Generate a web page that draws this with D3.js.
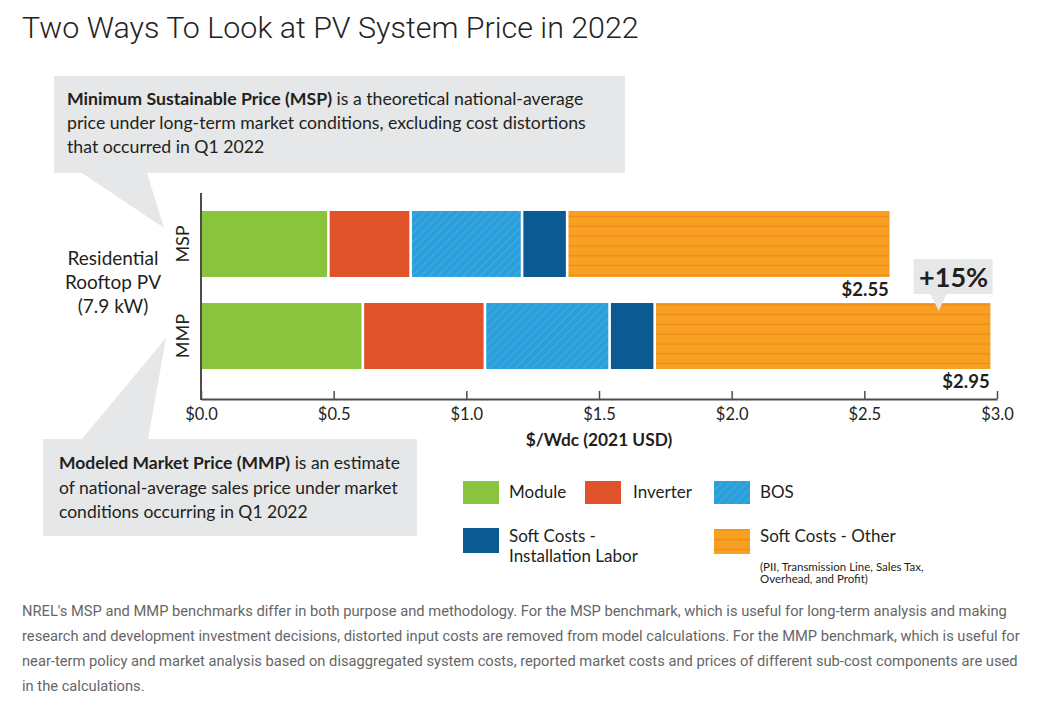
<!DOCTYPE html>
<html>
<head>
<meta charset="utf-8">
<script src="https://cdn.jsdelivr.net/npm/d3@7"></script>
<style>
  body { margin: 0; background: #fff; }
  svg { display: block; }
  .ig { font-family: Lato, "Open Sans", sans-serif; fill: #231f20; }
</style>
</head>
<body>
<div id="chart"></div>
<script>
// chart values
var categories = ["MSP", "MMP"]
var components = ["Module", "Inverter", "BOS", "Soft Costs - Installation Labor", "Soft Costs - Other"]
var mspValues = [0.48, 0.31, 0.42, 0.17, 1.22]
var mmpValues = [0.61, 0.46, 0.47, 0.17, 1.27]
var totalLabels = ["$2.55", "$2.95"]
var xTicks = [0, 0.5, 1.0, 1.5, 2.0, 2.5, 3.0]
var changeLabel = "+15%"

var W = 1052, H = 703
var fills = ["url(#pat-green)", "#e0532a", "url(#pat-blue)", "#0c5a93", "url(#pat-orange)"]
var calloutGray = "#e6e7e8"

var svg = d3.select("#chart").append("svg")
	.attr("width", W)
	.attr("height", H)

// textures
var defs = svg.append("defs")
var pg = defs.append("pattern").attr("id", "pat-green")
	.attr("patternUnits", "userSpaceOnUse").attr("width", 4).attr("height", 4)
pg.append("rect").attr("width", 4).attr("height", 4).attr("fill", "#8cc63f")
pg.append("path").attr("d", "M0,4 L4,0 M0,0 L4,4").attr("stroke", "#7db935").attr("stroke-width", 0.6).attr("opacity", 0.5)

var pb = defs.append("pattern").attr("id", "pat-blue")
	.attr("patternUnits", "userSpaceOnUse").attr("width", 6).attr("height", 6)
	.attr("patternTransform", "rotate(45)")
pb.append("rect").attr("width", 6).attr("height", 6).attr("fill", "#2b9fdb")
pb.append("rect").attr("width", 1.5).attr("height", 6).attr("fill", "#3ea9e1")

var po = defs.append("pattern").attr("id", "pat-orange")
	.attr("patternUnits", "userSpaceOnUse").attr("width", 10).attr("height", 9.8)
	.attr("y", 1.5)
po.append("rect").attr("width", 10).attr("height", 9.8).attr("fill", "#f7a021")
po.append("rect").attr("y", 8.6).attr("width", 10).attr("height", 1.2).attr("fill", "#ee8a1c")

// title
svg.append("text")
	.attr("x", 22).attr("y", 38)
	.style("font-family", "Roboto, sans-serif")
	.style("font-weight", 300)
	.style("font-size", "30.4px")
	.style("fill", "#222")
	.text("Two Ways To Look at PV System Price in 2022")

// callout boxes
svg.append("path")
	.attr("d", "M54,76 H625 V173 H147 L164,228 L82,173 H54 Z")
	.attr("fill", calloutGray)
svg.append("path")
	.attr("d", "M43,439 H82 L166,338 L148,439 H417 V536 H43 Z")
	.attr("fill", calloutGray)

function richLines(x, y0, lh, lines, size){
	var t = svg.append("text").attr("class", "ig").attr("x", x).attr("y", y0)
		.style("font-size", size + "px")
	lines.forEach(function(line, i){
		line.forEach(function(part, j){
			var ts = t.append("tspan").text(part.t)
			if(j == 0){ ts.attr("x", x).attr("y", y0 + i*lh) }
			if(part.b){ ts.style("font-weight", 700) }
		})
	})
	return t
}

richLines(67, 105, 24, [
	[{t: "Minimum Sustainable Price (MSP)", b: true}, {t: " is a theoretical national-average"}],
	[{t: "price under long-term market conditions, excluding cost distortions"}],
	[{t: "that occurred in Q1 2022"}]
], 17.7)

richLines(59, 469, 24.5, [
	[{t: "Modeled Market Price (MMP)", b: true}, {t: " is an estimate"}],
	[{t: "of national-average sales price under market"}],
	[{t: "conditions occurring in Q1 2022"}]
], 17.5)

// scales
var x = d3.scaleLinear().domain([0, 3]).range([201, 997])
var y = d3.scaleBand().domain(categories).range([198, 382])
	.paddingInner(0.283).paddingOuter(0.141)

// stack data
var rows = categories.map(function(c, i){
	var vals = i == 0 ? mspValues : mmpValues
	var acc = 0
	return vals.map(function(v, k){
		var s = {cat: c, comp: components[k], idx: k, x0: acc, x1: acc + v}
		acc += v
		return s
	})
})

var gap = 1.3
svg.append("g").selectAll("g")
	.data(rows)
.enter().append("g")
	.selectAll("rect")
	.data(function(d){ return d })
.enter().append("rect")
	.attr("x", function(d){ return x(d.x0) + (d.idx == 0 ? 1 : gap) })
	.attr("y", function(d){ return y(d.cat) })
	.attr("width", function(d){ return x(d.x1) - x(d.x0) - (d.idx == 0 ? 1 + gap : 2*gap) })
	.attr("height", y.bandwidth())
	.attr("fill", function(d){ return fills[d.idx] })

// axes
var axis = d3.axisBottom(x)
	.tickValues(xTicks)
	.tickSize(-8)
	.tickSizeOuter(0)
	.tickPadding(9)
	.tickFormat(function(d){ return "$" + d.toFixed(1) })

var gx = svg.append("g")
	.attr("transform", "translate(0,399)")
	.call(axis)
gx.select(".domain").attr("stroke", "#4d4d4d").attr("stroke-width", 2)
gx.selectAll(".tick line").attr("stroke", "#4d4d4d").attr("stroke-width", 1.5)
gx.selectAll(".tick text")
	.attr("class", "ig")
	.style("font-family", "Lato, sans-serif")
	.style("font-size", "16.5px")
	.style("fill", "#231f20")

svg.append("line")
	.attr("x1", x(0)).attr("x2", x(0))
	.attr("y1", 193).attr("y2", 400)
	.attr("stroke", "#4d4d4d").attr("stroke-width", 2)

svg.append("text").attr("class", "ig")
	.attr("x", (x(0) + x(3)) / 2).attr("y", 446)
	.attr("text-anchor", "middle")
	.style("font-size", "17.3px").style("font-weight", 700)
	.text("$/Wdc (2021 USD)")

// category labels
svg.append("g").selectAll("text")
	.data(categories)
.enter().append("text")
	.attr("class", "ig")
	.attr("transform", function(d){ return "translate(189," + (y(d) + y.bandwidth()/2) + ") rotate(-90)" })
	.attr("text-anchor", "middle")
	.style("font-size", "18px")
	.text(function(d){ return d })

svg.append("text").attr("class", "ig")
	.attr("text-anchor", "middle")
	.style("font-size", "19px")
	.selectAll("tspan")
	.data(["Residential", "Rooftop PV", "(7.9 kW)"])
.enter().append("tspan")
	.attr("x", 113)
	.attr("y", function(d, i){ return 265 + i*24 })
	.text(function(d){ return d })

// totals
svg.append("g").selectAll("text")
	.data(rows)
.enter().append("text")
	.attr("class", "ig")
	.attr("x", function(d){ return x(d[d.length-1].x1) - 2 })
	.attr("y", function(d){ return y(d[0].cat) + y.bandwidth() + 19 })
	.attr("text-anchor", "end")
	.style("font-size", "18.5px").style("font-weight", 700)
	.text(function(d, i){ return totalLabels[i] })

// +15% callout
var cx = x(2.78)
var cy = y("MMP")
svg.append("path")
	.attr("d", "M" + (cx-25) + "," + (cy-44) + " H" + (cx+54) + " V" + (cy-9) + " H" + (cx+8) +
		" L" + cx + "," + (cy+8) + " L" + (cx-8) + "," + (cy-9) + " H" + (cx-25) + " Z")
	.attr("fill", calloutGray)
svg.append("text").attr("class", "ig")
	.attr("x", cx + 15).attr("y", cy - 16)
	.attr("text-anchor", "middle")
	.style("font-size", "27px").style("font-weight", 700)
	.text(changeLabel)

// legend
var legendPos = [
	{x: 463, y: 481}, {x: 585, y: 481}, {x: 714, y: 481},
	{x: 463, y: 528}, {x: 714, y: 529}
]
var legendText = [["Module"], ["Inverter"], ["BOS"], ["Soft Costs -", "Installation Labor"], ["Soft Costs - Other"]]
var legendTop = [17, 17, 17, 14, 13]
var lg = svg.append("g").selectAll("g")
	.data(components)
.enter().append("g")
	.attr("transform", function(d, i){ return "translate(" + legendPos[i].x + "," + legendPos[i].y + ")" })
lg.append("rect")
	.attr("width", 36)
	.attr("height", function(d, i){ return i < 3 ? 23 : 25 })
	.attr("fill", function(d, i){ return fills[i] })
lg.each(function(d, k){
	d3.select(this).append("text").attr("class", "ig")
		.style("font-size", "17px")
		.selectAll("tspan")
		.data(legendText[k])
	.enter().append("tspan")
		.attr("x", k == 1 ? 48 : 46)
		.attr("y", function(t, i){ return legendTop[k] + i*20 })
		.text(function(t){ return t })
})

svg.append("text").attr("class", "ig")
	.style("font-size", "11.5px")
	.selectAll("tspan")
	.data(["(PII, Transmission Line, Sales Tax,", "Overhead, and Profit)"])
.enter().append("tspan")
	.attr("x", 760)
	.attr("y", function(d, i){ return 571 + i*11.5 })
	.text(function(d){ return d })

// footer paragraph
var footer = [
	"NREL's MSP and MMP benchmarks differ in both purpose and methodology. For the MSP benchmark, which is useful for long-term analysis and making",
	"research and development investment decisions, distorted input costs are removed from model calculations. For the MMP benchmark, which is useful for",
	"near-term policy and market analysis based on disaggregated system costs, reported market costs and prices of different sub-cost components are used",
	"in the calculations."
]
svg.append("g").selectAll("text")
	.data(footer)
.enter().append("text")
	.attr("x", 22)
	.attr("y", function(d, i){ return 616 + i*25 })
	.style("font-family", "Roboto, sans-serif")
	.style("font-size", "14.7px")
	.style("fill", "#666")
	.text(function(d){ return d })
</script>
</body>
</html>
